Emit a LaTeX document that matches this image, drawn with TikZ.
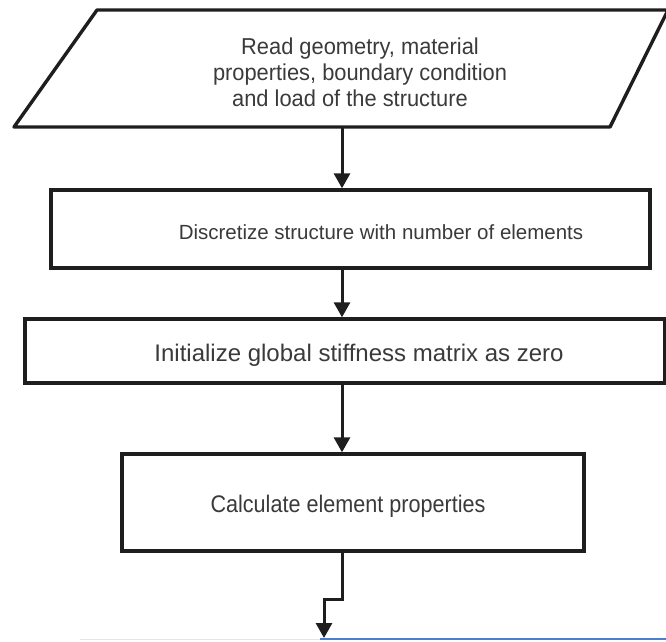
\documentclass[tikz,border=0pt]{standalone}
\usepackage{fontspec}
\setmainfont{Liberation Sans}
\usetikzlibrary{arrows.meta}
\definecolor{edge}{HTML}{1E1E1E}
\definecolor{txt}{HTML}{3A3A3A}
\definecolor{bluel}{HTML}{4A7FD0}
\newfontfamily\narrowa[FakeStretch=0.95]{Liberation Sans}
\newfontfamily\narrowb[FakeStretch=0.9]{Liberation Sans}
\tikzset{
  box/.style={draw=edge, line width=3.4pt, fill=white, inner sep=0pt},
  lbl/.style={text=txt, align=center, inner sep=0pt},
  flow/.style={draw=edge, line width=3pt, -{Triangle[length=15pt,width=16pt]}},
}
\begin{document}
\begin{tikzpicture}[x=1pt,y=-1pt]
\useasboundingbox (0,0) rectangle (666,641);
% input parallelogram
\coordinate (p1) at (97,10);
\coordinate (p2) at (668,10);
\coordinate (p3) at (610,127);
\coordinate (p4) at (14,127);
\draw[edge, line width=3.4pt, line join=round] (p1) -- (p2) -- (p3) -- (p4) -- cycle;
\node[lbl, font=\narrowa\fontsize{23}{26}\selectfont] (read) at (360,72)
  {Read geometry, material\\properties, boundary condition\\\hspace*{-20pt}and load of the structure};
\coordinate (pb) at (342,127);
% process boxes
\node[box, minimum width=599pt, minimum height=78pt] (b2) at (350.5,229) {};
\node[lbl, font=\fontsize{20.5}{24}\selectfont] (t2) at (381,232) {Discretize structure with number of elements};
\node[box, minimum width=640pt, minimum height=64pt] (b3) at (345,351) {};
\node[lbl, font=\fontsize{24}{28}\selectfont] (t3) at (359,355) {Initialize global stiffness matrix as zero};
\node[box, minimum width=462pt, minimum height=97pt] (b4) at (353,502.5) {};
\node[lbl, font=\narrowb\fontsize{24}{28}\selectfont] (t4) at (348,506) {Calculate element properties};
% connectors
\draw[flow] (pb) -- (pb |- b2.north);
\draw[flow] (pb |- b2.south) -- (pb |- b3.north);
\draw[flow] (pb |- b3.south) -- (pb |- b4.north);
\coordinate (bs) at (pb |- b4.south);
\coordinate (k1) at (342,599);
\coordinate (k2) at (324,599);
\coordinate (end) at (324,638);
\draw[flow] (bs) -- (k1) -- (k2) -- (end);
% top edge of the next (cut-off) box
\coordinate (l0) at (80,639);
\coordinate (l1) at (320,639);
\coordinate (l2) at (666,639);
\draw[black!10, line width=1pt] (l0) -- (l1);
\draw[bluel, line width=2pt] (l1) -- (l2);
\end{tikzpicture}
\end{document}
